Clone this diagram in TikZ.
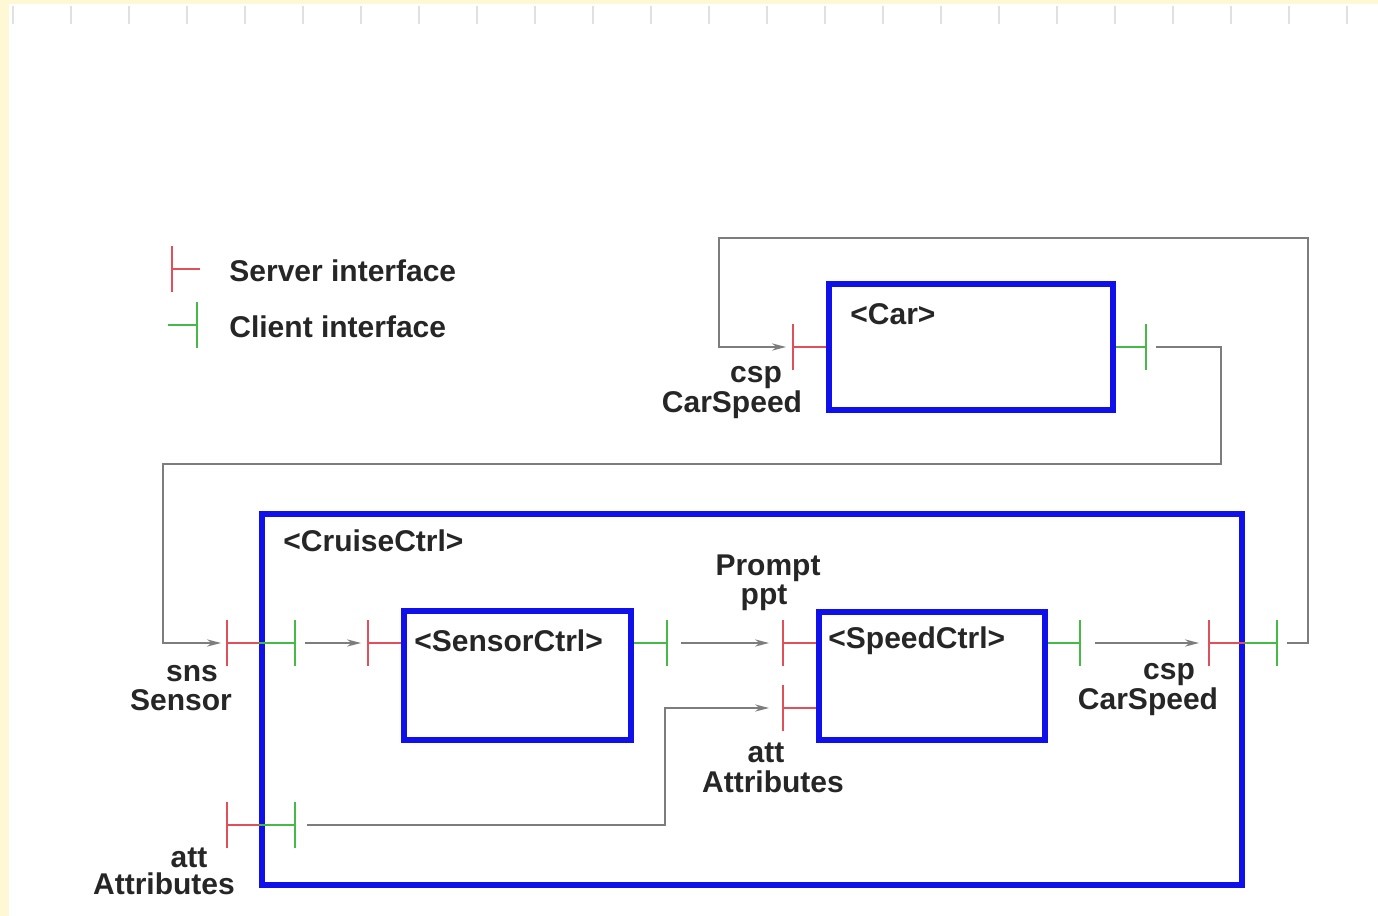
\documentclass[tikz,border=0pt]{standalone}
\usepackage{fontspec}
\setmainfont{Liberation Sans}
\usetikzlibrary{arrows.meta,calc}
\definecolor{bgyellow}{RGB}{255,248,212}
\definecolor{tickgray}{RGB}{225,225,225}
\definecolor{boxblue}{RGB}{16,16,235}
\definecolor{srvred}{RGB}{225,80,90}
\definecolor{cligreen}{RGB}{70,185,70}
\definecolor{conngray}{RGB}{125,125,125}
\tikzset{
  comp/.style={draw=boxblue, line width=3pt, inner sep=0pt, fill=none},
  srv/.style={draw=srvred, line width=1.1pt},
  cli/.style={draw=cligreen, line width=1.1pt},
  conn/.style={draw=conngray, line width=0.85pt},
  arr/.style={conn, -{Stealth[length=7pt,width=3.6pt]}},
  lbl/.style={font=\bfseries\fontsize{15}{17}\selectfont, inner sep=0pt, text=black!85},
  boxlbl/.style={lbl, anchor=west},
}
\begin{document}
\begin{tikzpicture}[x=0.5pt,y=-0.5pt]
\useasboundingbox (0,0) rectangle (1378,916);
\fill[white] (0,0) rectangle (1378,916);
\fill[bgyellow] (0,0) rectangle (1378,4);
\fill[bgyellow] (0,0) rectangle (9,916);
\foreach \i in {0,...,23} {
  \draw[tickgray, line width=1.2pt] ({13+58*\i},6) -- ({13+58*\i},24);
}

% legend
\coordinate (lgS) at (172,269);
\draw[srv] ($(lgS)+(0,-23)$) -- ($(lgS)+(0,23)$);
\draw[srv] (lgS) -- ++(28,0);
\node[lbl, anchor=west] (lgStext) at (229,271) {Server interface};
\coordinate (lgC) at (197,325);
\draw[cli] ($(lgC)+(0,-23)$) -- ($(lgC)+(0,23)$);
\draw[cli] (lgC) -- ++(-29,0);
\node[lbl, anchor=west] (lgCtext) at (229,327) {Client interface};

% components
\node[comp, minimum width=142pt, minimum height=63.25pt] (car) at (971,346.75) {};
\node[boxlbl] (carlbl) at (850,314) {<Car>};
\node[comp, minimum width=490.25pt, minimum height=185.75pt] (cruise) at (751.75,699.25) {};
\node[boxlbl] (cruiselbl) at (283,541) {<CruiseCtrl>};
\node[comp, minimum width=113.75pt, minimum height=64.5pt] (sensor) at (517.25,675.5) {};
\node[boxlbl] (sensorlbl) at (414,641) {<SensorCtrl>};
\node[comp, minimum width=113pt, minimum height=64pt] (speed) at (932,676) {};
\node[boxlbl] (speedlbl) at (828,641) {<SpeedCtrl>};

% ports: car
\coordinate (carIn) at (793,347);
\draw[srv] (carIn) -- (car.west |- carIn);
\draw[srv] ($(carIn)+(0,-23)$) -- ($(carIn)+(0,23)$);
\coordinate (carOut) at (1146,347);
\draw[cli] (car.east |- carOut) -- (carOut);
\draw[cli] ($(carOut)+(0,-23)$) -- ($(carOut)+(0,23)$);

% ports: cruise left (sns)
\coordinate (snsOut) at (227,643);
\draw[srv] (snsOut) -- (cruise.west |- snsOut);
\draw[srv] ($(snsOut)+(0,-23)$) -- ($(snsOut)+(0,23)$);
\coordinate (snsIn) at (295,643);
\draw[cli] (cruise.west |- snsIn) -- (snsIn);
\draw[cli] ($(snsIn)+(0,-23)$) -- ($(snsIn)+(0,23)$);

% ports: cruise left (att)
\coordinate (attOut) at (227,825);
\draw[srv] (attOut) -- (cruise.west |- attOut);
\draw[srv] ($(attOut)+(0,-23)$) -- ($(attOut)+(0,23)$);
\coordinate (attIn) at (295,825);
\draw[cli] (cruise.west |- attIn) -- (attIn);
\draw[cli] ($(attIn)+(0,-23)$) -- ($(attIn)+(0,23)$);

% ports: sensorctrl
\coordinate (senIn) at (368,643);
\draw[srv] (senIn) -- (sensor.west |- senIn);
\draw[srv] ($(senIn)+(0,-23)$) -- ($(senIn)+(0,23)$);
\coordinate (senOut) at (667,643);
\draw[cli] (sensor.east |- senOut) -- (senOut);
\draw[cli] ($(senOut)+(0,-23)$) -- ($(senOut)+(0,23)$);

% ports: speedctrl
\coordinate (spdPpt) at (783,643);
\draw[srv] (spdPpt) -- (speed.west |- spdPpt);
\draw[srv] ($(spdPpt)+(0,-23)$) -- ($(spdPpt)+(0,23)$);
\coordinate (spdAtt) at (783,708);
\draw[srv] (spdAtt) -- (speed.west |- spdAtt);
\draw[srv] ($(spdAtt)+(0,-23)$) -- ($(spdAtt)+(0,23)$);
\coordinate (spdOut) at (1080,643);
\draw[cli] (speed.east |- spdOut) -- (spdOut);
\draw[cli] ($(spdOut)+(0,-23)$) -- ($(spdOut)+(0,23)$);

% ports: cruise right (csp)
\coordinate (cspIn) at (1209,643);
\draw[srv] (cspIn) -- (cruise.east |- cspIn);
\draw[srv] ($(cspIn)+(0,-23)$) -- ($(cspIn)+(0,23)$);
\coordinate (cspOut) at (1277,643);
\draw[cli] (cruise.east |- cspOut) -- (cspOut);
\draw[cli] ($(cspOut)+(0,-23)$) -- ($(cspOut)+(0,23)$);

% connector end points
\coordinate (carOutGap) at (1156,347);
\coordinate (bA) at (1221,347);
\coordinate (bB) at (1221,464);
\coordinate (bC) at (163,464);
\coordinate (bD) at (163,643);
\coordinate (snsTip) at (221,643);
\coordinate (cspGap) at (1287,643);
\coordinate (tA) at (1308,643);
\coordinate (tB) at (1308,238);
\coordinate (tC) at (719,238);
\coordinate (tD) at (719,347);
\coordinate (carTip) at (786,347);
\coordinate (snsGap) at (305,643);
\coordinate (senTip) at (361,643);
\coordinate (senGap) at (681,643);
\coordinate (pptTip) at (769,643);
\coordinate (attGap) at (307,825);
\coordinate (aA) at (665,825);
\coordinate (aB) at (665,708);
\coordinate (attTip) at (769,708);
\coordinate (spdGap) at (1095,643);
\coordinate (cspTip) at (1199,643);

% connectors
\draw[arr] (carOutGap) -- (bA) -- (bB) -- (bC) -- (bD) -- (snsTip);
\draw[arr] (cspGap) -- (tA) -- (tB) -- (tC) -- (tD) -- (carTip);
\draw[arr] (snsGap) -- (senTip);
\draw[arr] (senGap) -- (pptTip);
\draw[arr] (attGap) -- (aA) -- (aB) -- (attTip);
\draw[arr] (spdGap) -- (cspTip);

% port labels
\node[lbl] (carCsp) at (756,378) {csp};
\node[lbl] (carCspT) at (732,405) {CarSpeed};
\node[lbl] (snsN) at (192,674) {sns};
\node[lbl] (snsT) at (181,700) {Sensor};
\node[lbl] (attN) at (189,858) {att};
\node[lbl] (attT) at (164,884) {Attributes};
\node[lbl] (pptT) at (768,568) {Prompt};
\node[lbl] (pptN) at (764,598) {ppt};
\node[lbl] (sattN) at (766,753) {att};
\node[lbl] (sattT) at (773,782) {Attributes};
\node[lbl] (cspN) at (1169,675) {csp};
\node[lbl] (cspT) at (1148,702) {CarSpeed};
\end{tikzpicture}
\end{document}
